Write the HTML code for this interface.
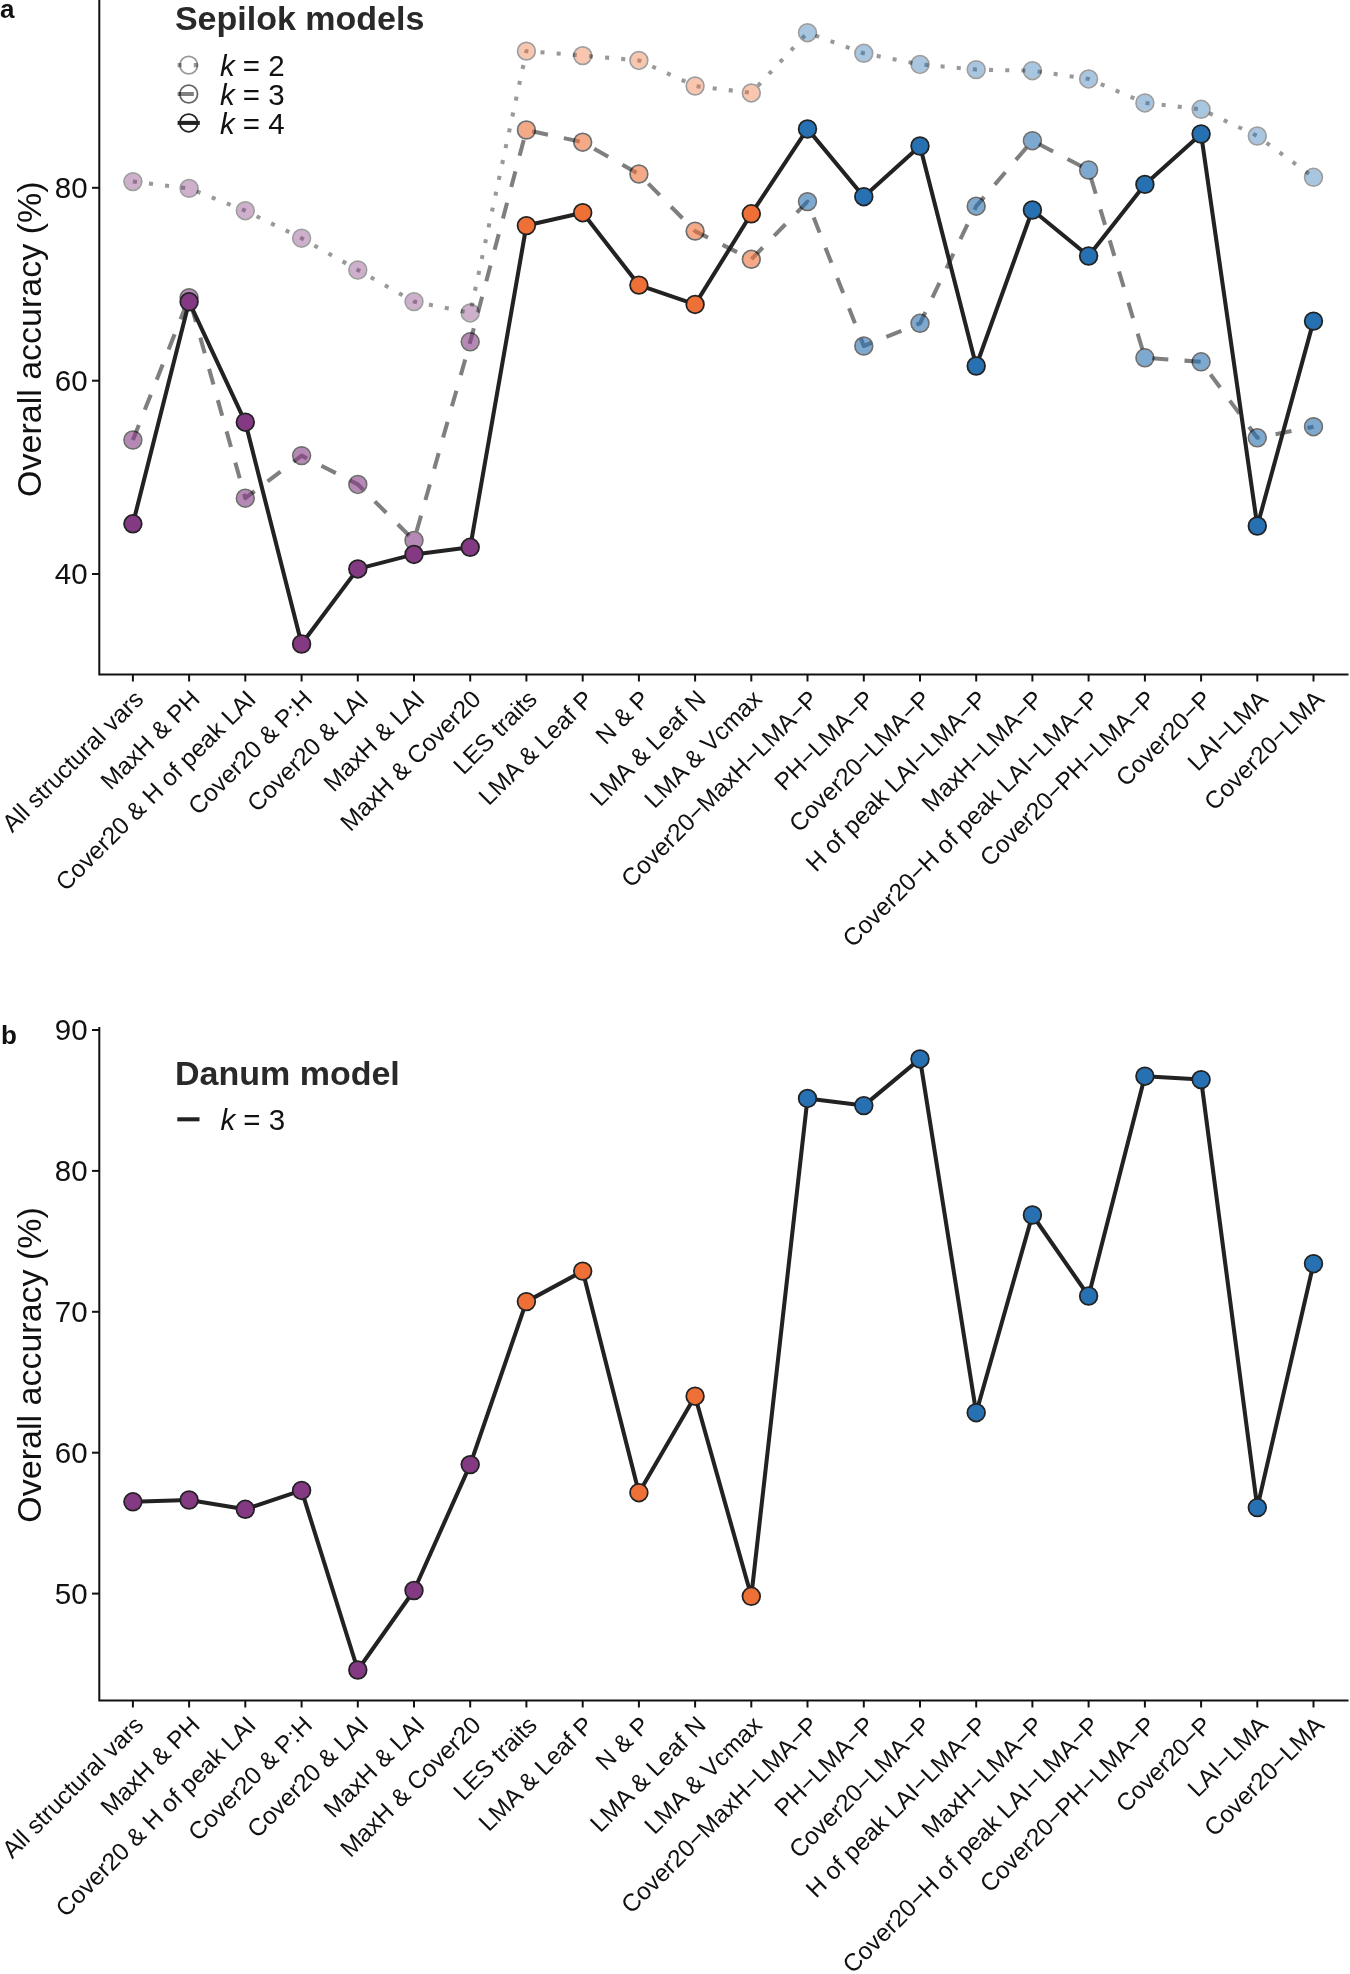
<!DOCTYPE html>
<html><head><meta charset="utf-8"><style>
html,body{margin:0;padding:0;background:#fff;}
body{width:1350px;height:1974px;overflow:hidden;font-family:"Liberation Sans",sans-serif;}
svg{display:block;will-change:transform;}
text{font-family:"Liberation Sans",sans-serif;}
</style></head><body>
<svg width="1350" height="1974" viewBox="0 0 1350 1974">
<rect width="1350" height="1974" fill="#fff"/>
<g font-family="Liberation Sans, sans-serif">
<text x="0" y="17.6" font-size="26" font-weight="bold" fill="#111">a</text>
<text x="1.0" y="1043.9" font-size="26" font-weight="bold" fill="#111">b</text>
<polyline points="132.9,181.6 189.1,188.4 245.3,210.7 301.6,238.2 357.8,270.0 414.0,301.6 470.2,312.9 526.4,51.1 582.7,55.6 638.9,60.4 695.1,86.0 751.3,92.9 807.5,32.7 863.8,53.3 920.0,64.4 976.2,69.6 1032.4,70.7 1088.6,78.9 1144.9,102.9 1201.1,109.3 1257.3,136.0 1313.5,177.3" fill="none" stroke="#000" stroke-opacity="0.4" stroke-width="4.056" stroke-linejoin="round" stroke-linecap="butt" stroke-dasharray="4.050 12.150"/>
<polyline points="132.9,440.0 189.1,297.6 245.3,498.2 301.6,455.6 357.8,484.4 414.0,540.4 470.2,341.8 526.4,130.0 582.7,142.2 638.9,174.0 695.1,231.1 751.3,259.3 807.5,201.6 863.8,346.0 920.0,323.3 976.2,206.2 1032.4,140.7 1088.6,170.0 1144.9,357.8 1201.1,361.8 1257.3,437.8 1313.5,426.7" fill="none" stroke="#000" stroke-opacity="0.5" stroke-width="4.056" stroke-linejoin="round" stroke-linecap="butt" stroke-dasharray="16.224 16.224"/>
<polyline points="132.9,523.8 189.1,301.8 245.3,422.2 301.6,644.0 357.8,568.9 414.0,554.4 470.2,547.3 526.4,225.6 582.7,212.7 638.9,285.1 695.1,304.4 751.3,213.8 807.5,128.9 863.8,196.7 920.0,146.0 976.2,366.0 1032.4,210.0 1088.6,256.0 1144.9,184.4 1201.1,134.0 1257.3,526.0 1313.5,321.1" fill="none" stroke="#222" stroke-opacity="1" stroke-width="4.056" stroke-linejoin="round" stroke-linecap="butt"/>
<circle cx="132.9" cy="181.6" r="7.97" fill="rgb(132,57,131)" fill-opacity="0.4"/>
<circle cx="132.9" cy="181.6" r="8.85" fill="none" stroke="#000" stroke-opacity="0.38" stroke-width="1.75"/>
<circle cx="189.1" cy="188.4" r="7.97" fill="rgb(132,57,131)" fill-opacity="0.4"/>
<circle cx="189.1" cy="188.4" r="8.85" fill="none" stroke="#000" stroke-opacity="0.38" stroke-width="1.75"/>
<circle cx="245.3" cy="210.7" r="7.97" fill="rgb(132,57,131)" fill-opacity="0.4"/>
<circle cx="245.3" cy="210.7" r="8.85" fill="none" stroke="#000" stroke-opacity="0.38" stroke-width="1.75"/>
<circle cx="301.6" cy="238.2" r="7.97" fill="rgb(132,57,131)" fill-opacity="0.4"/>
<circle cx="301.6" cy="238.2" r="8.85" fill="none" stroke="#000" stroke-opacity="0.38" stroke-width="1.75"/>
<circle cx="357.8" cy="270.0" r="7.97" fill="rgb(132,57,131)" fill-opacity="0.4"/>
<circle cx="357.8" cy="270.0" r="8.85" fill="none" stroke="#000" stroke-opacity="0.38" stroke-width="1.75"/>
<circle cx="414.0" cy="301.6" r="7.97" fill="rgb(132,57,131)" fill-opacity="0.4"/>
<circle cx="414.0" cy="301.6" r="8.85" fill="none" stroke="#000" stroke-opacity="0.38" stroke-width="1.75"/>
<circle cx="470.2" cy="312.9" r="7.97" fill="rgb(132,57,131)" fill-opacity="0.4"/>
<circle cx="470.2" cy="312.9" r="8.85" fill="none" stroke="#000" stroke-opacity="0.38" stroke-width="1.75"/>
<circle cx="526.4" cy="51.1" r="7.97" fill="rgb(239,112,54)" fill-opacity="0.4"/>
<circle cx="526.4" cy="51.1" r="8.85" fill="none" stroke="#000" stroke-opacity="0.38" stroke-width="1.75"/>
<circle cx="582.7" cy="55.6" r="7.97" fill="rgb(239,112,54)" fill-opacity="0.4"/>
<circle cx="582.7" cy="55.6" r="8.85" fill="none" stroke="#000" stroke-opacity="0.38" stroke-width="1.75"/>
<circle cx="638.9" cy="60.4" r="7.97" fill="rgb(239,112,54)" fill-opacity="0.4"/>
<circle cx="638.9" cy="60.4" r="8.85" fill="none" stroke="#000" stroke-opacity="0.38" stroke-width="1.75"/>
<circle cx="695.1" cy="86.0" r="7.97" fill="rgb(239,112,54)" fill-opacity="0.4"/>
<circle cx="695.1" cy="86.0" r="8.85" fill="none" stroke="#000" stroke-opacity="0.38" stroke-width="1.75"/>
<circle cx="751.3" cy="92.9" r="7.97" fill="rgb(239,112,54)" fill-opacity="0.4"/>
<circle cx="751.3" cy="92.9" r="8.85" fill="none" stroke="#000" stroke-opacity="0.38" stroke-width="1.75"/>
<circle cx="807.5" cy="32.7" r="7.97" fill="rgb(39,112,177)" fill-opacity="0.4"/>
<circle cx="807.5" cy="32.7" r="8.85" fill="none" stroke="#000" stroke-opacity="0.38" stroke-width="1.75"/>
<circle cx="863.8" cy="53.3" r="7.97" fill="rgb(39,112,177)" fill-opacity="0.4"/>
<circle cx="863.8" cy="53.3" r="8.85" fill="none" stroke="#000" stroke-opacity="0.38" stroke-width="1.75"/>
<circle cx="920.0" cy="64.4" r="7.97" fill="rgb(39,112,177)" fill-opacity="0.4"/>
<circle cx="920.0" cy="64.4" r="8.85" fill="none" stroke="#000" stroke-opacity="0.38" stroke-width="1.75"/>
<circle cx="976.2" cy="69.6" r="7.97" fill="rgb(39,112,177)" fill-opacity="0.4"/>
<circle cx="976.2" cy="69.6" r="8.85" fill="none" stroke="#000" stroke-opacity="0.38" stroke-width="1.75"/>
<circle cx="1032.4" cy="70.7" r="7.97" fill="rgb(39,112,177)" fill-opacity="0.4"/>
<circle cx="1032.4" cy="70.7" r="8.85" fill="none" stroke="#000" stroke-opacity="0.38" stroke-width="1.75"/>
<circle cx="1088.6" cy="78.9" r="7.97" fill="rgb(39,112,177)" fill-opacity="0.4"/>
<circle cx="1088.6" cy="78.9" r="8.85" fill="none" stroke="#000" stroke-opacity="0.38" stroke-width="1.75"/>
<circle cx="1144.9" cy="102.9" r="7.97" fill="rgb(39,112,177)" fill-opacity="0.4"/>
<circle cx="1144.9" cy="102.9" r="8.85" fill="none" stroke="#000" stroke-opacity="0.38" stroke-width="1.75"/>
<circle cx="1201.1" cy="109.3" r="7.97" fill="rgb(39,112,177)" fill-opacity="0.4"/>
<circle cx="1201.1" cy="109.3" r="8.85" fill="none" stroke="#000" stroke-opacity="0.38" stroke-width="1.75"/>
<circle cx="1257.3" cy="136.0" r="7.97" fill="rgb(39,112,177)" fill-opacity="0.4"/>
<circle cx="1257.3" cy="136.0" r="8.85" fill="none" stroke="#000" stroke-opacity="0.38" stroke-width="1.75"/>
<circle cx="1313.5" cy="177.3" r="7.97" fill="rgb(39,112,177)" fill-opacity="0.4"/>
<circle cx="1313.5" cy="177.3" r="8.85" fill="none" stroke="#000" stroke-opacity="0.38" stroke-width="1.75"/>
<circle cx="132.9" cy="440.0" r="7.97" fill="rgb(132,57,131)" fill-opacity="0.6"/>
<circle cx="132.9" cy="440.0" r="8.85" fill="none" stroke="#000" stroke-opacity="0.57" stroke-width="1.75"/>
<circle cx="189.1" cy="297.6" r="7.97" fill="rgb(132,57,131)" fill-opacity="0.6"/>
<circle cx="189.1" cy="297.6" r="8.85" fill="none" stroke="#000" stroke-opacity="0.57" stroke-width="1.75"/>
<circle cx="245.3" cy="498.2" r="7.97" fill="rgb(132,57,131)" fill-opacity="0.6"/>
<circle cx="245.3" cy="498.2" r="8.85" fill="none" stroke="#000" stroke-opacity="0.57" stroke-width="1.75"/>
<circle cx="301.6" cy="455.6" r="7.97" fill="rgb(132,57,131)" fill-opacity="0.6"/>
<circle cx="301.6" cy="455.6" r="8.85" fill="none" stroke="#000" stroke-opacity="0.57" stroke-width="1.75"/>
<circle cx="357.8" cy="484.4" r="7.97" fill="rgb(132,57,131)" fill-opacity="0.6"/>
<circle cx="357.8" cy="484.4" r="8.85" fill="none" stroke="#000" stroke-opacity="0.57" stroke-width="1.75"/>
<circle cx="414.0" cy="540.4" r="7.97" fill="rgb(132,57,131)" fill-opacity="0.6"/>
<circle cx="414.0" cy="540.4" r="8.85" fill="none" stroke="#000" stroke-opacity="0.57" stroke-width="1.75"/>
<circle cx="470.2" cy="341.8" r="7.97" fill="rgb(132,57,131)" fill-opacity="0.6"/>
<circle cx="470.2" cy="341.8" r="8.85" fill="none" stroke="#000" stroke-opacity="0.57" stroke-width="1.75"/>
<circle cx="526.4" cy="130.0" r="7.97" fill="rgb(239,112,54)" fill-opacity="0.6"/>
<circle cx="526.4" cy="130.0" r="8.85" fill="none" stroke="#000" stroke-opacity="0.57" stroke-width="1.75"/>
<circle cx="582.7" cy="142.2" r="7.97" fill="rgb(239,112,54)" fill-opacity="0.6"/>
<circle cx="582.7" cy="142.2" r="8.85" fill="none" stroke="#000" stroke-opacity="0.57" stroke-width="1.75"/>
<circle cx="638.9" cy="174.0" r="7.97" fill="rgb(239,112,54)" fill-opacity="0.6"/>
<circle cx="638.9" cy="174.0" r="8.85" fill="none" stroke="#000" stroke-opacity="0.57" stroke-width="1.75"/>
<circle cx="695.1" cy="231.1" r="7.97" fill="rgb(239,112,54)" fill-opacity="0.6"/>
<circle cx="695.1" cy="231.1" r="8.85" fill="none" stroke="#000" stroke-opacity="0.57" stroke-width="1.75"/>
<circle cx="751.3" cy="259.3" r="7.97" fill="rgb(239,112,54)" fill-opacity="0.6"/>
<circle cx="751.3" cy="259.3" r="8.85" fill="none" stroke="#000" stroke-opacity="0.57" stroke-width="1.75"/>
<circle cx="807.5" cy="201.6" r="7.97" fill="rgb(39,112,177)" fill-opacity="0.6"/>
<circle cx="807.5" cy="201.6" r="8.85" fill="none" stroke="#000" stroke-opacity="0.57" stroke-width="1.75"/>
<circle cx="863.8" cy="346.0" r="7.97" fill="rgb(39,112,177)" fill-opacity="0.6"/>
<circle cx="863.8" cy="346.0" r="8.85" fill="none" stroke="#000" stroke-opacity="0.57" stroke-width="1.75"/>
<circle cx="920.0" cy="323.3" r="7.97" fill="rgb(39,112,177)" fill-opacity="0.6"/>
<circle cx="920.0" cy="323.3" r="8.85" fill="none" stroke="#000" stroke-opacity="0.57" stroke-width="1.75"/>
<circle cx="976.2" cy="206.2" r="7.97" fill="rgb(39,112,177)" fill-opacity="0.6"/>
<circle cx="976.2" cy="206.2" r="8.85" fill="none" stroke="#000" stroke-opacity="0.57" stroke-width="1.75"/>
<circle cx="1032.4" cy="140.7" r="7.97" fill="rgb(39,112,177)" fill-opacity="0.6"/>
<circle cx="1032.4" cy="140.7" r="8.85" fill="none" stroke="#000" stroke-opacity="0.57" stroke-width="1.75"/>
<circle cx="1088.6" cy="170.0" r="7.97" fill="rgb(39,112,177)" fill-opacity="0.6"/>
<circle cx="1088.6" cy="170.0" r="8.85" fill="none" stroke="#000" stroke-opacity="0.57" stroke-width="1.75"/>
<circle cx="1144.9" cy="357.8" r="7.97" fill="rgb(39,112,177)" fill-opacity="0.6"/>
<circle cx="1144.9" cy="357.8" r="8.85" fill="none" stroke="#000" stroke-opacity="0.57" stroke-width="1.75"/>
<circle cx="1201.1" cy="361.8" r="7.97" fill="rgb(39,112,177)" fill-opacity="0.6"/>
<circle cx="1201.1" cy="361.8" r="8.85" fill="none" stroke="#000" stroke-opacity="0.57" stroke-width="1.75"/>
<circle cx="1257.3" cy="437.8" r="7.97" fill="rgb(39,112,177)" fill-opacity="0.6"/>
<circle cx="1257.3" cy="437.8" r="8.85" fill="none" stroke="#000" stroke-opacity="0.57" stroke-width="1.75"/>
<circle cx="1313.5" cy="426.7" r="7.97" fill="rgb(39,112,177)" fill-opacity="0.6"/>
<circle cx="1313.5" cy="426.7" r="8.85" fill="none" stroke="#000" stroke-opacity="0.57" stroke-width="1.75"/>
<circle cx="132.9" cy="523.8" r="8.85" fill="rgb(132,57,131)" stroke="#222" stroke-width="1.75"/>
<circle cx="189.1" cy="301.8" r="8.85" fill="rgb(132,57,131)" stroke="#222" stroke-width="1.75"/>
<circle cx="245.3" cy="422.2" r="8.85" fill="rgb(132,57,131)" stroke="#222" stroke-width="1.75"/>
<circle cx="301.6" cy="644.0" r="8.85" fill="rgb(132,57,131)" stroke="#222" stroke-width="1.75"/>
<circle cx="357.8" cy="568.9" r="8.85" fill="rgb(132,57,131)" stroke="#222" stroke-width="1.75"/>
<circle cx="414.0" cy="554.4" r="8.85" fill="rgb(132,57,131)" stroke="#222" stroke-width="1.75"/>
<circle cx="470.2" cy="547.3" r="8.85" fill="rgb(132,57,131)" stroke="#222" stroke-width="1.75"/>
<circle cx="526.4" cy="225.6" r="8.85" fill="rgb(239,112,54)" stroke="#222" stroke-width="1.75"/>
<circle cx="582.7" cy="212.7" r="8.85" fill="rgb(239,112,54)" stroke="#222" stroke-width="1.75"/>
<circle cx="638.9" cy="285.1" r="8.85" fill="rgb(239,112,54)" stroke="#222" stroke-width="1.75"/>
<circle cx="695.1" cy="304.4" r="8.85" fill="rgb(239,112,54)" stroke="#222" stroke-width="1.75"/>
<circle cx="751.3" cy="213.8" r="8.85" fill="rgb(239,112,54)" stroke="#222" stroke-width="1.75"/>
<circle cx="807.5" cy="128.9" r="8.85" fill="rgb(39,112,177)" stroke="#222" stroke-width="1.75"/>
<circle cx="863.8" cy="196.7" r="8.85" fill="rgb(39,112,177)" stroke="#222" stroke-width="1.75"/>
<circle cx="920.0" cy="146.0" r="8.85" fill="rgb(39,112,177)" stroke="#222" stroke-width="1.75"/>
<circle cx="976.2" cy="366.0" r="8.85" fill="rgb(39,112,177)" stroke="#222" stroke-width="1.75"/>
<circle cx="1032.4" cy="210.0" r="8.85" fill="rgb(39,112,177)" stroke="#222" stroke-width="1.75"/>
<circle cx="1088.6" cy="256.0" r="8.85" fill="rgb(39,112,177)" stroke="#222" stroke-width="1.75"/>
<circle cx="1144.9" cy="184.4" r="8.85" fill="rgb(39,112,177)" stroke="#222" stroke-width="1.75"/>
<circle cx="1201.1" cy="134.0" r="8.85" fill="rgb(39,112,177)" stroke="#222" stroke-width="1.75"/>
<circle cx="1257.3" cy="526.0" r="8.85" fill="rgb(39,112,177)" stroke="#222" stroke-width="1.75"/>
<circle cx="1313.5" cy="321.1" r="8.85" fill="rgb(39,112,177)" stroke="#222" stroke-width="1.75"/>
<path d="M99.3 0.0 V675.4 M98.3 674.4 H1348.5" stroke="#111" stroke-width="2" fill="none"/>
<path d="M92 187.8 H99" stroke="#111" stroke-width="2"/>
<text x="87.6" y="198.1" font-size="29.5" text-anchor="end" fill="#111">80</text>
<path d="M92 380.7 H99" stroke="#111" stroke-width="2"/>
<text x="87.6" y="391.0" font-size="29.5" text-anchor="end" fill="#111">60</text>
<path d="M92 574.0 H99" stroke="#111" stroke-width="2"/>
<text x="87.6" y="584.3" font-size="29.5" text-anchor="end" fill="#111">40</text>
<path d="M132.9 674.4 V681.5" stroke="#111" stroke-width="2"/>
<text x="145.0" y="700.6" font-size="24.5" text-anchor="end" fill="#111" transform="rotate(-45 145.0 700.6)">All structural vars</text>
<path d="M189.1 674.4 V681.5" stroke="#111" stroke-width="2"/>
<text x="201.2" y="700.6" font-size="24.5" text-anchor="end" fill="#111" transform="rotate(-45 201.2 700.6)">MaxH &amp; PH</text>
<path d="M245.3 674.4 V681.5" stroke="#111" stroke-width="2"/>
<text x="257.4" y="700.6" font-size="24.5" text-anchor="end" fill="#111" transform="rotate(-45 257.4 700.6)">Cover20 &amp; H of peak LAI</text>
<path d="M301.6 674.4 V681.5" stroke="#111" stroke-width="2"/>
<text x="313.7" y="700.6" font-size="24.5" text-anchor="end" fill="#111" transform="rotate(-45 313.7 700.6)">Cover20 &amp; P:H</text>
<path d="M357.8 674.4 V681.5" stroke="#111" stroke-width="2"/>
<text x="369.9" y="700.6" font-size="24.5" text-anchor="end" fill="#111" transform="rotate(-45 369.9 700.6)">Cover20 &amp; LAI</text>
<path d="M414.0 674.4 V681.5" stroke="#111" stroke-width="2"/>
<text x="426.1" y="700.6" font-size="24.5" text-anchor="end" fill="#111" transform="rotate(-45 426.1 700.6)">MaxH &amp; LAI</text>
<path d="M470.2 674.4 V681.5" stroke="#111" stroke-width="2"/>
<text x="482.3" y="700.6" font-size="24.5" text-anchor="end" fill="#111" transform="rotate(-45 482.3 700.6)">MaxH &amp; Cover20</text>
<path d="M526.4 674.4 V681.5" stroke="#111" stroke-width="2"/>
<text x="538.5" y="700.6" font-size="24.5" text-anchor="end" fill="#111" transform="rotate(-45 538.5 700.6)">LES traits</text>
<path d="M582.7 674.4 V681.5" stroke="#111" stroke-width="2"/>
<text x="594.8" y="700.6" font-size="24.5" text-anchor="end" fill="#111" transform="rotate(-45 594.8 700.6)">LMA &amp; Leaf P</text>
<path d="M638.9 674.4 V681.5" stroke="#111" stroke-width="2"/>
<text x="651.0" y="700.6" font-size="24.5" text-anchor="end" fill="#111" transform="rotate(-45 651.0 700.6)">N &amp; P</text>
<path d="M695.1 674.4 V681.5" stroke="#111" stroke-width="2"/>
<text x="707.2" y="700.6" font-size="24.5" text-anchor="end" fill="#111" transform="rotate(-45 707.2 700.6)">LMA &amp; Leaf N</text>
<path d="M751.3 674.4 V681.5" stroke="#111" stroke-width="2"/>
<text x="763.4" y="700.6" font-size="24.5" text-anchor="end" fill="#111" transform="rotate(-45 763.4 700.6)">LMA &amp; Vcmax</text>
<path d="M807.5 674.4 V681.5" stroke="#111" stroke-width="2"/>
<text x="819.6" y="700.6" font-size="24.5" text-anchor="end" fill="#111" transform="rotate(-45 819.6 700.6)">Cover20−MaxH−LMA−P</text>
<path d="M863.8 674.4 V681.5" stroke="#111" stroke-width="2"/>
<text x="875.9" y="700.6" font-size="24.5" text-anchor="end" fill="#111" transform="rotate(-45 875.9 700.6)">PH−LMA−P</text>
<path d="M920.0 674.4 V681.5" stroke="#111" stroke-width="2"/>
<text x="932.1" y="700.6" font-size="24.5" text-anchor="end" fill="#111" transform="rotate(-45 932.1 700.6)">Cover20−LMA−P</text>
<path d="M976.2 674.4 V681.5" stroke="#111" stroke-width="2"/>
<text x="988.3" y="700.6" font-size="24.5" text-anchor="end" fill="#111" transform="rotate(-45 988.3 700.6)">H of peak LAI−LMA−P</text>
<path d="M1032.4 674.4 V681.5" stroke="#111" stroke-width="2"/>
<text x="1044.5" y="700.6" font-size="24.5" text-anchor="end" fill="#111" transform="rotate(-45 1044.5 700.6)">MaxH−LMA−P</text>
<path d="M1088.6 674.4 V681.5" stroke="#111" stroke-width="2"/>
<text x="1100.7" y="700.6" font-size="24.5" text-anchor="end" fill="#111" transform="rotate(-45 1100.7 700.6)">Cover20−H of peak LAI−LMA−P</text>
<path d="M1144.9 674.4 V681.5" stroke="#111" stroke-width="2"/>
<text x="1157.0" y="700.6" font-size="24.5" text-anchor="end" fill="#111" transform="rotate(-45 1157.0 700.6)">Cover20−PH−LMA−P</text>
<path d="M1201.1 674.4 V681.5" stroke="#111" stroke-width="2"/>
<text x="1213.2" y="700.6" font-size="24.5" text-anchor="end" fill="#111" transform="rotate(-45 1213.2 700.6)">Cover20−P</text>
<path d="M1257.3 674.4 V681.5" stroke="#111" stroke-width="2"/>
<text x="1269.4" y="700.6" font-size="24.5" text-anchor="end" fill="#111" transform="rotate(-45 1269.4 700.6)">LAI−LMA</text>
<path d="M1313.5 674.4 V681.5" stroke="#111" stroke-width="2"/>
<text x="1325.6" y="700.6" font-size="24.5" text-anchor="end" fill="#111" transform="rotate(-45 1325.6 700.6)">Cover20−LMA</text>
<text x="40.8" y="339.2" font-size="34" text-anchor="middle" fill="#111" transform="rotate(-90 40.8 339.2)">Overall accuracy (%)</text>
<text x="174.9" y="30.3" font-size="34" font-weight="bold" fill="#292929">Sepilok models</text>
<path d="M177.6 65.1 H199.8" stroke="#000" stroke-opacity="0.4" stroke-width="4.056" stroke-dasharray="4.050 12.150"/>
<circle cx="188.7" cy="65.1" r="8.85" fill="none" stroke="#000" stroke-opacity="0.4" stroke-width="1.75"/>
<text x="219.9" y="76.0" font-size="29.5" fill="#111"><tspan font-style="italic">k</tspan> = 2</text>
<path d="M177.6 94.0 H199.8" stroke="#000" stroke-opacity="0.5" stroke-width="4.056" stroke-dasharray="16.224 16.224"/>
<circle cx="188.7" cy="94.0" r="8.85" fill="none" stroke="#000" stroke-opacity="0.6" stroke-width="1.75"/>
<text x="219.9" y="104.9" font-size="29.5" fill="#111"><tspan font-style="italic">k</tspan> = 3</text>
<path d="M177.6 122.9 H199.8" stroke="#222" stroke-opacity="1" stroke-width="4.056"/>
<circle cx="188.7" cy="122.9" r="8.85" fill="none" stroke="#222" stroke-opacity="1" stroke-width="1.75"/>
<text x="219.9" y="133.8" font-size="29.5" fill="#111"><tspan font-style="italic">k</tspan> = 4</text>
<polyline points="132.9,1501.8 189.1,1500.0 245.3,1509.3 301.6,1490.4 357.8,1670.0 414.0,1590.5 470.2,1464.6 526.4,1301.6 582.7,1271.1 638.9,1492.7 695.1,1396.2 751.3,1596.3 807.5,1098.4 863.8,1105.6 920.0,1058.9 976.2,1412.7 1032.4,1215.0 1088.6,1296.0 1144.9,1076.2 1201.1,1079.6 1257.3,1507.6 1313.5,1263.7" fill="none" stroke="#222" stroke-opacity="1" stroke-width="4.056" stroke-linejoin="round" stroke-linecap="butt"/>
<circle cx="132.9" cy="1501.8" r="8.85" fill="rgb(132,57,131)" stroke="#222" stroke-width="1.75"/>
<circle cx="189.1" cy="1500.0" r="8.85" fill="rgb(132,57,131)" stroke="#222" stroke-width="1.75"/>
<circle cx="245.3" cy="1509.3" r="8.85" fill="rgb(132,57,131)" stroke="#222" stroke-width="1.75"/>
<circle cx="301.6" cy="1490.4" r="8.85" fill="rgb(132,57,131)" stroke="#222" stroke-width="1.75"/>
<circle cx="357.8" cy="1670.0" r="8.85" fill="rgb(132,57,131)" stroke="#222" stroke-width="1.75"/>
<circle cx="414.0" cy="1590.5" r="8.85" fill="rgb(132,57,131)" stroke="#222" stroke-width="1.75"/>
<circle cx="470.2" cy="1464.6" r="8.85" fill="rgb(132,57,131)" stroke="#222" stroke-width="1.75"/>
<circle cx="526.4" cy="1301.6" r="8.85" fill="rgb(239,112,54)" stroke="#222" stroke-width="1.75"/>
<circle cx="582.7" cy="1271.1" r="8.85" fill="rgb(239,112,54)" stroke="#222" stroke-width="1.75"/>
<circle cx="638.9" cy="1492.7" r="8.85" fill="rgb(239,112,54)" stroke="#222" stroke-width="1.75"/>
<circle cx="695.1" cy="1396.2" r="8.85" fill="rgb(239,112,54)" stroke="#222" stroke-width="1.75"/>
<circle cx="751.3" cy="1596.3" r="8.85" fill="rgb(239,112,54)" stroke="#222" stroke-width="1.75"/>
<circle cx="807.5" cy="1098.4" r="8.85" fill="rgb(39,112,177)" stroke="#222" stroke-width="1.75"/>
<circle cx="863.8" cy="1105.6" r="8.85" fill="rgb(39,112,177)" stroke="#222" stroke-width="1.75"/>
<circle cx="920.0" cy="1058.9" r="8.85" fill="rgb(39,112,177)" stroke="#222" stroke-width="1.75"/>
<circle cx="976.2" cy="1412.7" r="8.85" fill="rgb(39,112,177)" stroke="#222" stroke-width="1.75"/>
<circle cx="1032.4" cy="1215.0" r="8.85" fill="rgb(39,112,177)" stroke="#222" stroke-width="1.75"/>
<circle cx="1088.6" cy="1296.0" r="8.85" fill="rgb(39,112,177)" stroke="#222" stroke-width="1.75"/>
<circle cx="1144.9" cy="1076.2" r="8.85" fill="rgb(39,112,177)" stroke="#222" stroke-width="1.75"/>
<circle cx="1201.1" cy="1079.6" r="8.85" fill="rgb(39,112,177)" stroke="#222" stroke-width="1.75"/>
<circle cx="1257.3" cy="1507.6" r="8.85" fill="rgb(39,112,177)" stroke="#222" stroke-width="1.75"/>
<circle cx="1313.5" cy="1263.7" r="8.85" fill="rgb(39,112,177)" stroke="#222" stroke-width="1.75"/>
<path d="M99.3 1027.0 V1701.4 M98.3 1700.4 H1348.5" stroke="#111" stroke-width="2" fill="none"/>
<path d="M92 1030.0 H99" stroke="#111" stroke-width="2"/>
<text x="87.6" y="1040.3" font-size="29.5" text-anchor="end" fill="#111">90</text>
<path d="M92 1170.9 H99" stroke="#111" stroke-width="2"/>
<text x="87.6" y="1181.2" font-size="29.5" text-anchor="end" fill="#111">80</text>
<path d="M92 1311.8 H99" stroke="#111" stroke-width="2"/>
<text x="87.6" y="1322.1" font-size="29.5" text-anchor="end" fill="#111">70</text>
<path d="M92 1452.7 H99" stroke="#111" stroke-width="2"/>
<text x="87.6" y="1463.0" font-size="29.5" text-anchor="end" fill="#111">60</text>
<path d="M92 1593.6 H99" stroke="#111" stroke-width="2"/>
<text x="87.6" y="1603.9" font-size="29.5" text-anchor="end" fill="#111">50</text>
<path d="M132.9 1700.4 V1707.5" stroke="#111" stroke-width="2"/>
<text x="145.0" y="1726.6" font-size="24.5" text-anchor="end" fill="#111" transform="rotate(-45 145.0 1726.6)">All structural vars</text>
<path d="M189.1 1700.4 V1707.5" stroke="#111" stroke-width="2"/>
<text x="201.2" y="1726.6" font-size="24.5" text-anchor="end" fill="#111" transform="rotate(-45 201.2 1726.6)">MaxH &amp; PH</text>
<path d="M245.3 1700.4 V1707.5" stroke="#111" stroke-width="2"/>
<text x="257.4" y="1726.6" font-size="24.5" text-anchor="end" fill="#111" transform="rotate(-45 257.4 1726.6)">Cover20 &amp; H of peak LAI</text>
<path d="M301.6 1700.4 V1707.5" stroke="#111" stroke-width="2"/>
<text x="313.7" y="1726.6" font-size="24.5" text-anchor="end" fill="#111" transform="rotate(-45 313.7 1726.6)">Cover20 &amp; P:H</text>
<path d="M357.8 1700.4 V1707.5" stroke="#111" stroke-width="2"/>
<text x="369.9" y="1726.6" font-size="24.5" text-anchor="end" fill="#111" transform="rotate(-45 369.9 1726.6)">Cover20 &amp; LAI</text>
<path d="M414.0 1700.4 V1707.5" stroke="#111" stroke-width="2"/>
<text x="426.1" y="1726.6" font-size="24.5" text-anchor="end" fill="#111" transform="rotate(-45 426.1 1726.6)">MaxH &amp; LAI</text>
<path d="M470.2 1700.4 V1707.5" stroke="#111" stroke-width="2"/>
<text x="482.3" y="1726.6" font-size="24.5" text-anchor="end" fill="#111" transform="rotate(-45 482.3 1726.6)">MaxH &amp; Cover20</text>
<path d="M526.4 1700.4 V1707.5" stroke="#111" stroke-width="2"/>
<text x="538.5" y="1726.6" font-size="24.5" text-anchor="end" fill="#111" transform="rotate(-45 538.5 1726.6)">LES traits</text>
<path d="M582.7 1700.4 V1707.5" stroke="#111" stroke-width="2"/>
<text x="594.8" y="1726.6" font-size="24.5" text-anchor="end" fill="#111" transform="rotate(-45 594.8 1726.6)">LMA &amp; Leaf P</text>
<path d="M638.9 1700.4 V1707.5" stroke="#111" stroke-width="2"/>
<text x="651.0" y="1726.6" font-size="24.5" text-anchor="end" fill="#111" transform="rotate(-45 651.0 1726.6)">N &amp; P</text>
<path d="M695.1 1700.4 V1707.5" stroke="#111" stroke-width="2"/>
<text x="707.2" y="1726.6" font-size="24.5" text-anchor="end" fill="#111" transform="rotate(-45 707.2 1726.6)">LMA &amp; Leaf N</text>
<path d="M751.3 1700.4 V1707.5" stroke="#111" stroke-width="2"/>
<text x="763.4" y="1726.6" font-size="24.5" text-anchor="end" fill="#111" transform="rotate(-45 763.4 1726.6)">LMA &amp; Vcmax</text>
<path d="M807.5 1700.4 V1707.5" stroke="#111" stroke-width="2"/>
<text x="819.6" y="1726.6" font-size="24.5" text-anchor="end" fill="#111" transform="rotate(-45 819.6 1726.6)">Cover20−MaxH−LMA−P</text>
<path d="M863.8 1700.4 V1707.5" stroke="#111" stroke-width="2"/>
<text x="875.9" y="1726.6" font-size="24.5" text-anchor="end" fill="#111" transform="rotate(-45 875.9 1726.6)">PH−LMA−P</text>
<path d="M920.0 1700.4 V1707.5" stroke="#111" stroke-width="2"/>
<text x="932.1" y="1726.6" font-size="24.5" text-anchor="end" fill="#111" transform="rotate(-45 932.1 1726.6)">Cover20−LMA−P</text>
<path d="M976.2 1700.4 V1707.5" stroke="#111" stroke-width="2"/>
<text x="988.3" y="1726.6" font-size="24.5" text-anchor="end" fill="#111" transform="rotate(-45 988.3 1726.6)">H of peak LAI−LMA−P</text>
<path d="M1032.4 1700.4 V1707.5" stroke="#111" stroke-width="2"/>
<text x="1044.5" y="1726.6" font-size="24.5" text-anchor="end" fill="#111" transform="rotate(-45 1044.5 1726.6)">MaxH−LMA−P</text>
<path d="M1088.6 1700.4 V1707.5" stroke="#111" stroke-width="2"/>
<text x="1100.7" y="1726.6" font-size="24.5" text-anchor="end" fill="#111" transform="rotate(-45 1100.7 1726.6)">Cover20−H of peak LAI−LMA−P</text>
<path d="M1144.9 1700.4 V1707.5" stroke="#111" stroke-width="2"/>
<text x="1157.0" y="1726.6" font-size="24.5" text-anchor="end" fill="#111" transform="rotate(-45 1157.0 1726.6)">Cover20−PH−LMA−P</text>
<path d="M1201.1 1700.4 V1707.5" stroke="#111" stroke-width="2"/>
<text x="1213.2" y="1726.6" font-size="24.5" text-anchor="end" fill="#111" transform="rotate(-45 1213.2 1726.6)">Cover20−P</text>
<path d="M1257.3 1700.4 V1707.5" stroke="#111" stroke-width="2"/>
<text x="1269.4" y="1726.6" font-size="24.5" text-anchor="end" fill="#111" transform="rotate(-45 1269.4 1726.6)">LAI−LMA</text>
<path d="M1313.5 1700.4 V1707.5" stroke="#111" stroke-width="2"/>
<text x="1325.6" y="1726.6" font-size="24.5" text-anchor="end" fill="#111" transform="rotate(-45 1325.6 1726.6)">Cover20−LMA</text>
<text x="40.8" y="1364.9" font-size="34" text-anchor="middle" fill="#111" transform="rotate(-90 40.8 1364.9)">Overall accuracy (%)</text>
<text x="175" y="1084.7" font-size="34" font-weight="bold" fill="#292929">Danum model</text>
<path d="M177.3 1119.3 H199.5" stroke="#222" stroke-width="4.056"/>
<text x="220.4" y="1130" font-size="29.5" fill="#111"><tspan font-style="italic">k</tspan> = 3</text>
</g></svg>
</body></html>
